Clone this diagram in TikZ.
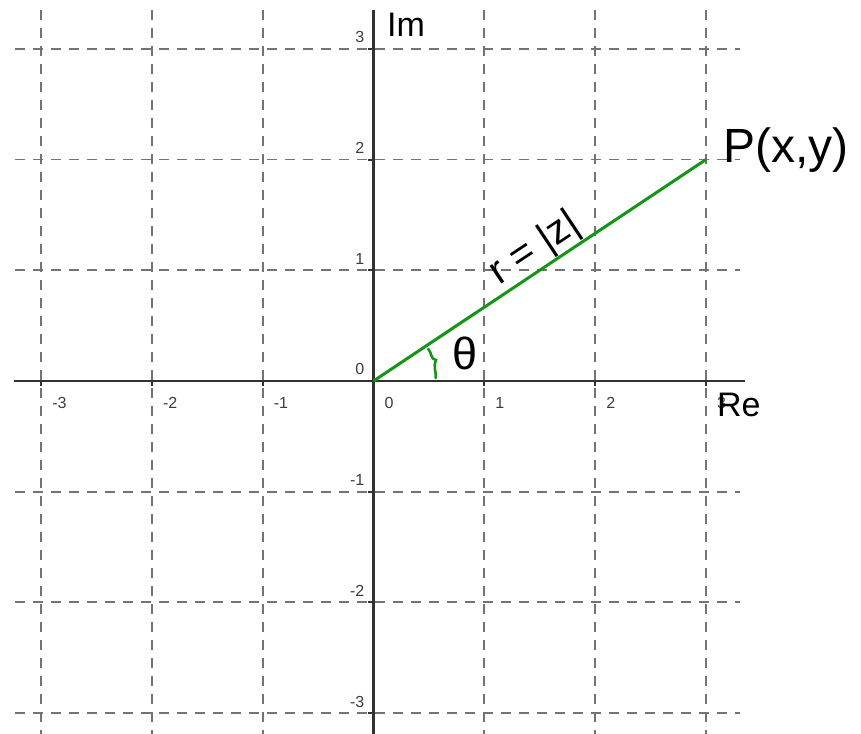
\documentclass[tikz,border=0pt]{standalone}
\usepackage{fontspec}
\setmainfont{Liberation Sans}
\definecolor{gridgray}{RGB}{115,115,115}
\definecolor{axisgray}{RGB}{50,50,50}
\definecolor{labgray}{RGB}{60,60,60}
\definecolor{vecgreen}{RGB}{20,150,20}
\begin{document}
\begin{tikzpicture}[x=110.8pt,y=110.7pt,
  gridline/.style={draw=gridgray,line width=1.8pt,dash pattern=on 10pt off 8pt},
  axisline/.style={draw=axisgray,line width=2.4pt},
  tickline/.style={draw=axisgray,line width=2pt},
  ticklab/.style={text=labgray,inner sep=0pt,font=\fontsize{16}{18}\selectfont},
  biglab/.style={text=black,inner sep=0pt},
  greenline/.style={draw=vecgreen,line width=3pt},
  anglemark/.style={draw=vecgreen,line width=2.6pt,line cap=round}]
\useasboundingbox (-3.3709,-3.1888) rectangle (4.3998,3.4417);
% grid
\foreach \i in {-3,-2,-1,1,2,3}{
  \draw[gridline] (\i,3.35) -- (\i,-3.19);
  \draw[gridline] (-3.235,\i) -- (3.31,\i);
}
% axes
\coordinate (xl) at (-3.245,0);
\coordinate (xr) at (3.353,0);
\coordinate (yt) at (0,3.351);
\coordinate (yb) at (0,-3.19);
\draw[axisline] (xl) -- (xr);
\draw[axisline] (yt) -- (yb);
% ticks and labels
\foreach \i in {-3,-2,-1,0,1,2,3}{
  \draw[tickline] (\i,0) -- ++(0,-5pt);
  \draw[tickline] (0,\i) -- ++(-5pt,0);
  \node[ticklab,anchor=base west,xshift=11pt,yshift=-28pt] (xlab\i) at (\i,0) {\i};
  \node[ticklab,anchor=base east,xshift=-9pt,yshift=6pt] (ylab\i) at (0,\i) {\i};
}
% axis names
\node[biglab,anchor=base west,font=\fontsize{34}{40}\selectfont] (im) at (0.1218,3.1075) {Im};
\node[biglab,anchor=base west,font=\fontsize{34}{40}\selectfont] (re) at (3.100,-0.325) {Re};
% vector
\coordinate (O) at (0,0);
\coordinate (P) at (3,2);
\draw[greenline] (O) -- (P)
  node[pos=0.52,sloped,above,inner sep=0pt,text=black,font=\fontsize{40}{46}\selectfont] (rlab) {r = |z|};
\node[biglab,anchor=base west,font=\fontsize{48}{56}\selectfont] (plab) at (3.1543,1.978) {P(x,y)};
% angle
\draw[anglemark] (2.8:0.562) .. controls (9:0.575) and (13:0.55) .. (18.5:0.595)
  .. controls (21:0.55) and (26:0.585) .. (30.3:0.573);
\node[biglab,anchor=base west,font=\fontsize{45}{52}\selectfont] (theta) at (0.7085,0.108) {θ};
\end{tikzpicture}
\end{document}
